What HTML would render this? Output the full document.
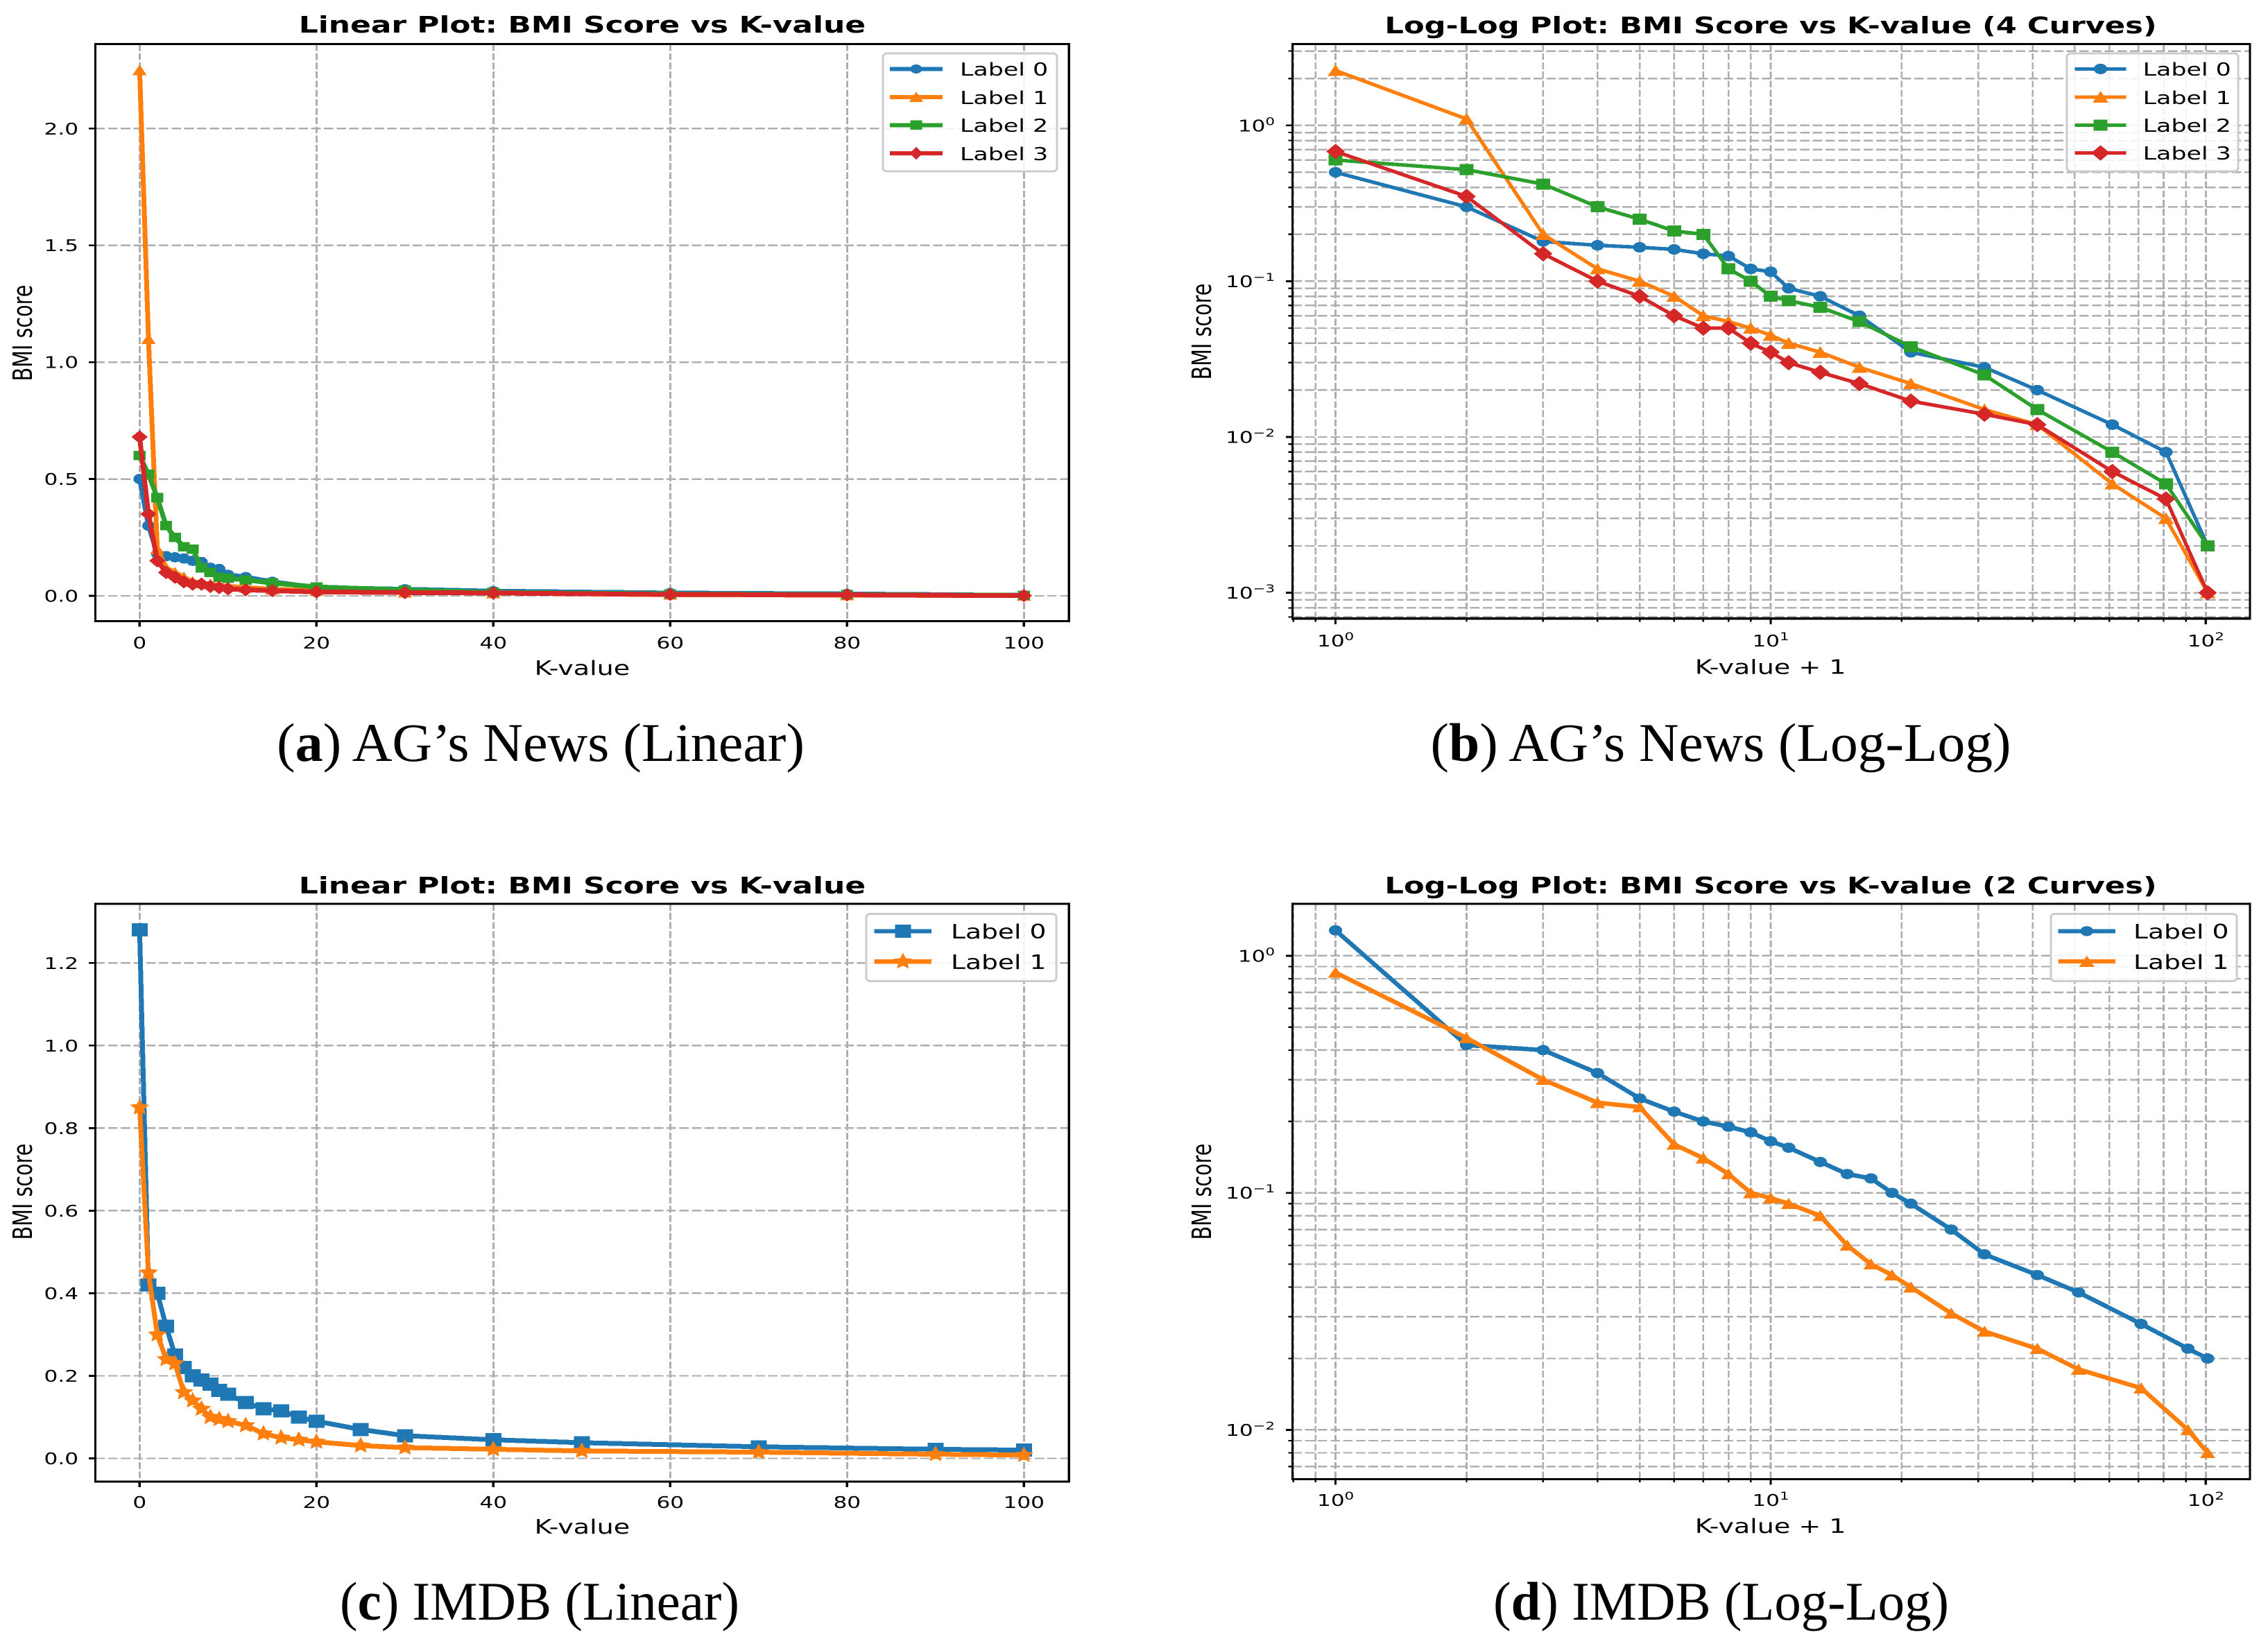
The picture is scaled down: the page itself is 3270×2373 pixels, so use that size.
<!DOCTYPE html>
<html lang="en">
<head>
<meta charset="utf-8">
<title>BMI Score vs K-value</title>
<style>
html,body{margin:0;padding:0;background:#fff;}
svg{display:block;shape-rendering:crispEdges;}
text{fill:#000;font-family:"DejaVu Sans","Liberation Sans",sans-serif;}
.title{font-size:33px;font-weight:700;text-anchor:middle;}
.title2{font-size:32.5px;font-weight:700;text-anchor:middle;}
.axis{font-size:28.6px;text-anchor:middle;}
.leg{font-size:26.2px;}
.leg2{font-size:28.3px;}
.tick{font-size:23.4px;}
.cap{font-family:"Liberation Serif",serif;font-size:78px;}
.cap tspan.b{font-weight:700;}
</style>
</head>
<body>
<svg id="figure" xmlns="http://www.w3.org/2000/svg" width="3270" height="2373" viewBox="0 0 3270 2373">
<rect x="0" y="0" width="3270" height="2373" fill="#fff"/>

<g id="panel-a">
  <g id="a-grid"></g>
  <g id="a-series"></g>
  <g id="a-ticks"></g>
  <rect x="137.6" y="63.6" width="1403.6" height="832" fill="none" stroke="#000" stroke-width="3.2"/>
  <text class="title" transform="translate(839.4,47) scale(1.33,1)">Linear Plot: BMI Score vs K-value</text>
  <text class="axis" transform="translate(839.4,973) scale(1.33,1)">K-value</text>
  <text class="axis" transform="translate(46,480) scale(1.33,1) rotate(-90)">BMI score</text>
  <rect x="1273" y="77" width="251" height="170" rx="6" ry="5" fill="#fff" fill-opacity="0.85" stroke="#ccc" stroke-width="3"/>
  <g id="a-legend"></g>
  <text class="leg" transform="translate(1384,109) scale(1.33,1)">Label 0</text>
  <text class="leg" transform="translate(1384,150) scale(1.33,1)">Label 1</text>
  <text class="leg" transform="translate(1384,190) scale(1.33,1)">Label 2</text>
  <text class="leg" transform="translate(1384,231) scale(1.33,1)">Label 3</text>
  <text class="cap" x="399" y="1097" textLength="761" lengthAdjust="spacingAndGlyphs">(<tspan class="b">a</tspan>) AG’s News (Linear)</text>
</g>

<g id="panel-b">
  <g id="b-grid"></g>
  <g id="b-series"></g>
  <g id="b-ticks"></g>
  <rect x="1863.4" y="63.6" width="1380.5" height="828.2" fill="none" stroke="#000" stroke-width="3.2"/>
  <text class="title2" transform="translate(2553,48) scale(1.33,1)">Log-Log Plot: BMI Score vs K-value (4 Curves)</text>
  <text class="axis" transform="translate(2552.6,971.5) scale(1.33,1)">K-value + 1</text>
  <text class="axis" transform="translate(1746,478) scale(1.33,1) rotate(-90)">BMI score</text>
  <rect x="2980" y="77" width="247" height="170" rx="6" ry="5" fill="#fff" fill-opacity="0.85" stroke="#ccc" stroke-width="3"/>
  <g id="b-legend"></g>
  <text class="leg" transform="translate(3089.6,109) scale(1.33,1)">Label 0</text>
  <text class="leg" transform="translate(3089.6,150) scale(1.33,1)">Label 1</text>
  <text class="leg" transform="translate(3089.6,190) scale(1.33,1)">Label 2</text>
  <text class="leg" transform="translate(3089.6,230) scale(1.33,1)">Label 3</text>
  <text class="cap" x="2062.5" y="1097" textLength="837" lengthAdjust="spacingAndGlyphs">(<tspan class="b">b</tspan>) AG’s News (Log-Log)</text>
</g>

<g id="panel-c">
  <g id="c-grid"></g>
  <g id="c-series"></g>
  <g id="c-ticks"></g>
  <rect x="137.6" y="1303" width="1403.6" height="833" fill="none" stroke="#000" stroke-width="3.2"/>
  <text class="title" transform="translate(839.4,1288) scale(1.33,1)">Linear Plot: BMI Score vs K-value</text>
  <text class="axis" transform="translate(839.4,2211) scale(1.33,1)">K-value</text>
  <text class="axis" transform="translate(46,1718) scale(1.33,1) rotate(-90)">BMI score</text>
  <rect x="1249" y="1317.5" width="274" height="97" rx="6" ry="5" fill="#fff" fill-opacity="0.85" stroke="#ccc" stroke-width="3"/>
  <g id="c-legend"></g>
  <text class="leg2" transform="translate(1371,1353) scale(1.33,1)">Label 0</text>
  <text class="leg2" transform="translate(1371,1397) scale(1.33,1)">Label 1</text>
  <text class="cap" x="490" y="2335" textLength="576" lengthAdjust="spacingAndGlyphs">(<tspan class="b">c</tspan>) IMDB (Linear)</text>
</g>

<g id="panel-d">
  <g id="d-grid"></g>
  <g id="d-series"></g>
  <g id="d-ticks"></g>
  <rect x="1863.4" y="1303" width="1380.5" height="829.4" fill="none" stroke="#000" stroke-width="3.2"/>
  <text class="title2" transform="translate(2553,1288) scale(1.33,1)">Log-Log Plot: BMI Score vs K-value (2 Curves)</text>
  <text class="axis" transform="translate(2552.6,2210) scale(1.33,1)">K-value + 1</text>
  <text class="axis" transform="translate(1746,1718) scale(1.33,1) rotate(-90)">BMI score</text>
  <rect x="2957" y="1317.5" width="268" height="97" rx="6" ry="5" fill="#fff" fill-opacity="0.85" stroke="#ccc" stroke-width="3"/>
  <g id="d-legend"></g>
  <text class="leg2" transform="translate(3076,1353) scale(1.33,1)">Label 0</text>
  <text class="leg2" transform="translate(3076,1397) scale(1.33,1)">Label 1</text>
  <text class="cap" x="2153" y="2335" textLength="657" lengthAdjust="spacingAndGlyphs">(<tspan class="b">d</tspan>) IMDB (Log-Log)</text>
</g>
</svg>

<script>
// ---- data ----
const agK = [0,1,2,3,4,5,6,7,8,9,10,12,15,20,30,40,60,80,100];
const agLabel0 = [0.5,0.3,0.18,0.17,0.165,0.16,0.15,0.145,0.12,0.115,0.09,0.08,0.06,0.035,0.028,0.02,0.012,0.008,0.002];
const agLabel1 = [2.25,1.1,0.2,0.12,0.1,0.08,0.06,0.055,0.05,0.045,0.04,0.035,0.028,0.022,0.015,0.012,0.005,0.003,0.001];
const agLabel2 = [0.6,0.52,0.42,0.3,0.25,0.21,0.2,0.12,0.1,0.08,0.075,0.068,0.055,0.038,0.025,0.015,0.008,0.005,0.002];
const agLabel3 = [0.68,0.35,0.15,0.1,0.08,0.06,0.05,0.05,0.04,0.035,0.03,0.026,0.022,0.017,0.014,0.012,0.006,0.004,0.001];

const imdbK = [0,1,2,3,4,5,6,7,8,9,10,12,14,16,18,20,25,30,40,50,70,90,100];
const imdbLabel0 = [1.28,0.42,0.4,0.32,0.25,0.22,0.2,0.19,0.18,0.165,0.155,0.135,0.12,0.115,0.1,0.09,0.07,0.055,0.045,0.038,0.028,0.022,0.02];
const imdbLabel1 = [0.85,0.45,0.3,0.24,0.23,0.16,0.14,0.12,0.1,0.095,0.09,0.08,0.06,0.05,0.045,0.04,0.031,0.026,0.022,0.018,0.015,0.01,0.008];

const linearXTicks = [0,20,40,60,80,100];
const agLinearYTicks = [0.0,0.5,1.0,1.5,2.0];
const imdbLinearYTicks = [0.0,0.2,0.4,0.6,0.8,1.0,1.2];
const logXExponents = [0,1,2];
const agLogYExponents = [0,-1,-2,-3];
const imdbLogYExponents = [0,-1,-2];

const BLUE = '#1f77b4', ORANGE = '#ff7f0e', GREEN = '#2ca02c', RED = '#d62728';
const SVGNS = 'http://www.w3.org/2000/svg';

// ---- axis functions ----
function linearScale(v0, p0, v1, p1) {
  return function (v) { return p0 + (v - v0) * (p1 - p0) / (v1 - v0); };
}
function logScale(v0, p0, v1, p1) {
  const a = Math.log10(v0), b = Math.log10(v1);
  return function (v) { return p0 + (Math.log10(v) - a) * (p1 - p0) / (b - a); };
}

function make(tag, parent, attrs, name) {
  const el = document.createElementNS(SVGNS, tag);
  for (const k in attrs) el.setAttribute(k, attrs[k]);
  
  
  parent.appendChild(el);
  return el;
}

function pts(list) {
  return list.map(function (p) { return p[0].toFixed(2) + ',' + p[1].toFixed(2); }).join(' ');
}

function drawMarker(parent, type, cx, cy, size, color, name) {
  const rx = size.rx, ry = size.ry;
  if (type === 'circle') {
    make('ellipse', parent, {cx: cx, cy: cy, rx: rx, ry: ry, fill: color}, name);
  } else if (type === 'square') {
    make('rect', parent, {x: cx - rx, y: cy - ry, width: 2 * rx, height: 2 * ry, fill: color}, name);
  } else if (type === 'triangle') {
    make('polygon', parent, {points: pts([[cx, cy - ry * 1.1], [cx + rx * 1.05, cy + ry], [cx - rx * 1.05, cy + ry]]), fill: color}, name);
  } else if (type === 'diamond') {
    make('polygon', parent, {points: pts([[cx, cy - ry * 1.3], [cx + rx * 1.3, cy], [cx, cy + ry * 1.3], [cx - rx * 1.3, cy]]), fill: color}, name);
  } else if (type === 'star') {
    const list = [];
    for (let i = 0; i < 10; i++) {
      const a = -Math.PI / 2 + i * Math.PI / 5;
      const r = i % 2 === 0 ? 1.25 : 0.6;
      list.push([cx + rx * r * Math.cos(a), cy + ry * r * Math.sin(a)]);
    }
    make('polygon', parent, {points: pts(list), fill: color}, name);
  }
}

function gridLine(parent, horizontal, p, box, major, name) {
  const attrs = horizontal
    ? {x1: box.l, x2: box.r, y1: p, y2: p, 'stroke-dasharray': '13.6 4.7', 'stroke-width': 2.4}
    : {x1: p, x2: p, y1: box.t, y2: box.b, 'stroke-dasharray': '9.8 3.4', 'stroke-width': major ? 3 : 2.6};
  attrs.stroke = '#aeaeae';
  attrs.fill = 'none';
  make('line', parent, attrs, name);
}

function tickMark(parent, horizontal, p, box, major, name) {
  const len = horizontal ? (major ? 9.5 : 5.7) : (major ? 8 : 4.8);
  const attrs = horizontal
    ? {x1: box.l - len, x2: box.l, y1: p, y2: p, 'stroke-width': major ? 2.8 : 2.2}
    : {x1: p, x2: p, y1: box.b, y2: box.b + len, 'stroke-width': major ? 3.2 : 2.4};
  attrs.stroke = '#000';
  make('line', parent, attrs, name);
}

function plainLabel(parent, x, y, anchor, str, name) {
  const t = make('text', parent, {'class': 'tick', 'text-anchor': anchor, transform: 'translate(' + x + ',' + y + ') scale(1.33,1)'}, name);
  t.textContent = str;
}

function powerLabel(parent, x, y, anchor, exponent, name) {
  const t = make('text', parent, {'class': 'tick', 'text-anchor': anchor, transform: 'translate(' + x + ',' + y + ') scale(1.33,1)'}, name);
  t.appendChild(document.createTextNode('10'));
  const s = document.createElementNS(SVGNS, 'tspan');
  s.setAttribute('font-size', '16');
  s.setAttribute('dy', '-9');
  s.textContent = String(exponent).replace('-', '\u2212');
  t.appendChild(s);
}

function drawSeries(id, xs, ys, sx, sy, color, marker, size, lw, name, offset) {
  const g = make('g', document.getElementById(id + '-series'), {}, name);
  const list = xs.map(function (x, i) { return [sx(x + offset), sy(ys[i])]; });
  make('polyline', g, {points: pts(list), fill: 'none', stroke: color, 'stroke-width': lw, 'stroke-linejoin': 'round', 'stroke-linecap': 'butt'}, name + '-line');
  list.forEach(function (p) { drawMarker(g, marker, p[0], p[1], size, color, name + '-point'); });
}

function drawLegendKey(id, x1, x2, y, color, marker, size, lw, name) {
  const g = document.getElementById(id + '-legend');
  make('line', g, {x1: x1, x2: x2, y1: y, y2: y, stroke: color, 'stroke-width': lw}, name + '-line');
  drawMarker(g, marker, (x1 + x2) / 2, y, size, color, name + '-marker');
}

function linearAxes(id, box, sx, sy, xTicks, yTicks, xLabelY, yLabelX) {
  const grid = document.getElementById(id + '-grid');
  const ticks = document.getElementById(id + '-ticks');
  xTicks.forEach(function (v) {
    gridLine(grid, false, sx(v), box, true, 'x-gridline');
    tickMark(ticks, false, sx(v), box, true, 'x-tick');
    plainLabel(ticks, sx(v), xLabelY, 'middle', String(v), 'x-tick-label');
  });
  yTicks.forEach(function (v) {
    gridLine(grid, true, sy(v), box, true, 'y-gridline');
    tickMark(ticks, true, sy(v), box, true, 'y-tick');
    plainLabel(ticks, yLabelX, sy(v) + 8.5, 'end', v.toFixed(1), 'y-tick-label');
  });
}

function logAxes(id, box, sx, sy, xExps, yExps, xLabelY, yLabelX) {
  const grid = document.getElementById(id + '-grid');
  const ticks = document.getElementById(id + '-ticks');
  function minors(scale, lo, hi, fn) {
    for (let e = -5; e <= 3; e++) {
      for (let m = 2; m <= 9; m++) {
        const p = scale(m * Math.pow(10, e));
        if (p > lo + 1 && p < hi - 1) fn(p);
      }
    }
  }
  minors(sx, box.l, box.r, function (p) {
    gridLine(grid, false, p, box, false, 'x-minor-gridline');
    tickMark(ticks, false, p, box, false, 'x-minor-tick');
  });
  minors(sy, box.t, box.b, function (p) {
    gridLine(grid, true, p, box, false, 'y-minor-gridline');
    tickMark(ticks, true, p, box, false, 'y-minor-tick');
  });
  xExps.forEach(function (e) {
    const p = sx(Math.pow(10, e));
    gridLine(grid, false, p, box, true, 'x-gridline');
    tickMark(ticks, false, p, box, true, 'x-tick');
    powerLabel(ticks, p, xLabelY, 'middle', e, 'x-tick-label');
  });
  yExps.forEach(function (e) {
    const p = sy(Math.pow(10, e));
    gridLine(grid, true, p, box, true, 'y-gridline');
    tickMark(ticks, true, p, box, true, 'y-tick');
    powerLabel(ticks, yLabelX, p + 8.5, 'end', e, 'y-tick-label');
  });
}

// ---- panel (a) ----
(function () {
  const box = {l: 137.6, r: 1541.2, t: 63.6, b: 895.6};
  const sx = linearScale(0, 201.3, 100, 1476.3);
  const sy = linearScale(0, 859, 2, 185.3);
  linearAxes('a', box, sx, sy, linearXTicks, agLinearYTicks, 935, 113);
  const lw = 7;
  drawSeries('a', agK, agLabel0, sx, sy, BLUE, 'circle', {rx: 9, ry: 7.4}, lw, 'label-0-series', 0);
  drawSeries('a', agK, agLabel1, sx, sy, ORANGE, 'triangle', {rx: 9.8, ry: 7.4}, lw, 'label-1-series', 0);
  drawSeries('a', agK, agLabel2, sx, sy, GREEN, 'square', {rx: 8.6, ry: 6.8}, lw, 'label-2-series', 0);
  drawSeries('a', agK, agLabel3, sx, sy, RED, 'diamond', {rx: 9, ry: 7.4}, lw, 'label-3-series', 0);
  drawLegendKey('a', 1283, 1359, 99.4, BLUE, 'circle', {rx: 8.5, ry: 6.5}, 6, 'legend-key-0');
  drawLegendKey('a', 1283, 1359, 140, ORANGE, 'triangle', {rx: 9.5, ry: 7}, 6, 'legend-key-1');
  drawLegendKey('a', 1283, 1359, 180.3, GREEN, 'square', {rx: 8.4, ry: 6.6}, 6, 'legend-key-2');
  drawLegendKey('a', 1283, 1359, 221, RED, 'diamond', {rx: 7.5, ry: 7}, 6, 'legend-key-3');
})();

// ---- panel (b) ----
(function () {
  const box = {l: 1863.4, r: 3243.9, t: 63.6, b: 891.8};
  const sx = logScale(1, 1925.6, 100, 3180.3);
  const sy = logScale(1, 180.8, 0.001, 854.6);
  logAxes('b', box, sx, sy, logXExponents, agLogYExponents, 932, 1838);
  const lw = 5.2;
  drawSeries('b', agK, agLabel0, sx, sy, BLUE, 'circle', {rx: 9.6, ry: 7.6}, lw, 'label-0-series', 1);
  drawSeries('b', agK, agLabel1, sx, sy, ORANGE, 'triangle', {rx: 10.8, ry: 8}, lw, 'label-1-series', 1);
  drawSeries('b', agK, agLabel2, sx, sy, GREEN, 'square', {rx: 10, ry: 8}, lw, 'label-2-series', 1);
  drawSeries('b', agK, agLabel3, sx, sy, RED, 'diamond', {rx: 10.3, ry: 8.6}, lw, 'label-3-series', 1);
  drawLegendKey('b', 2991.5, 3065.6, 99.4, BLUE, 'circle', {rx: 9.6, ry: 7.6}, 4.9, 'legend-key-0');
  drawLegendKey('b', 2991.5, 3065.6, 140, ORANGE, 'triangle', {rx: 10.8, ry: 8}, 4.9, 'legend-key-1');
  drawLegendKey('b', 2991.5, 3065.6, 180.3, GREEN, 'square', {rx: 10, ry: 8}, 4.9, 'legend-key-2');
  drawLegendKey('b', 2991.5, 3065.6, 220.5, RED, 'diamond', {rx: 10.3, ry: 8.6}, 4.9, 'legend-key-3');
})();

// ---- panel (c) ----
(function () {
  const box = {l: 137.6, r: 1541.2, t: 1303, b: 2136};
  const sx = linearScale(0, 201.3, 100, 1476.3);
  const sy = linearScale(0, 2102.5, 1.2, 1388.3);
  linearAxes('c', box, sx, sy, linearXTicks, imdbLinearYTicks, 2174, 113);
  const lw = 7;
  drawSeries('c', imdbK, imdbLabel0, sx, sy, BLUE, 'square', {rx: 11.5, ry: 9.5}, lw, 'label-0-series', 0);
  drawSeries('c', imdbK, imdbLabel1, sx, sy, ORANGE, 'star', {rx: 11.6, ry: 10}, lw, 'label-1-series', 0);
  drawLegendKey('c', 1260.6, 1343, 1342.4, BLUE, 'square', {rx: 11.5, ry: 9.5}, 6.2, 'legend-key-0');
  drawLegendKey('c', 1260.6, 1343, 1386.2, ORANGE, 'star', {rx: 11.6, ry: 10}, 6.2, 'legend-key-1');
})();

// ---- panel (d) ----
(function () {
  const box = {l: 1863.4, r: 3243.9, t: 1303, b: 2132.4};
  const sx = logScale(1, 1925.6, 100, 3180.3);
  const sy = logScale(1, 1377.9, 0.01, 2061.4);
  logAxes('d', box, sx, sy, logXExponents, imdbLogYExponents, 2171, 1838);
  const lw = 6.4;
  drawSeries('d', imdbK, imdbLabel0, sx, sy, BLUE, 'circle', {rx: 9.6, ry: 7.4}, lw, 'label-0-series', 1);
  drawSeries('d', imdbK, imdbLabel1, sx, sy, ORANGE, 'triangle', {rx: 10.5, ry: 7.6}, lw, 'label-1-series', 1);
  drawLegendKey('d', 2967.5, 3050, 1342.4, BLUE, 'circle', {rx: 9.4, ry: 7.2}, 6, 'legend-key-0');
  drawLegendKey('d', 2967.5, 3050, 1386.2, ORANGE, 'triangle', {rx: 10.5, ry: 7.6}, 6, 'legend-key-1');
})();
</script>
</body>
</html>
